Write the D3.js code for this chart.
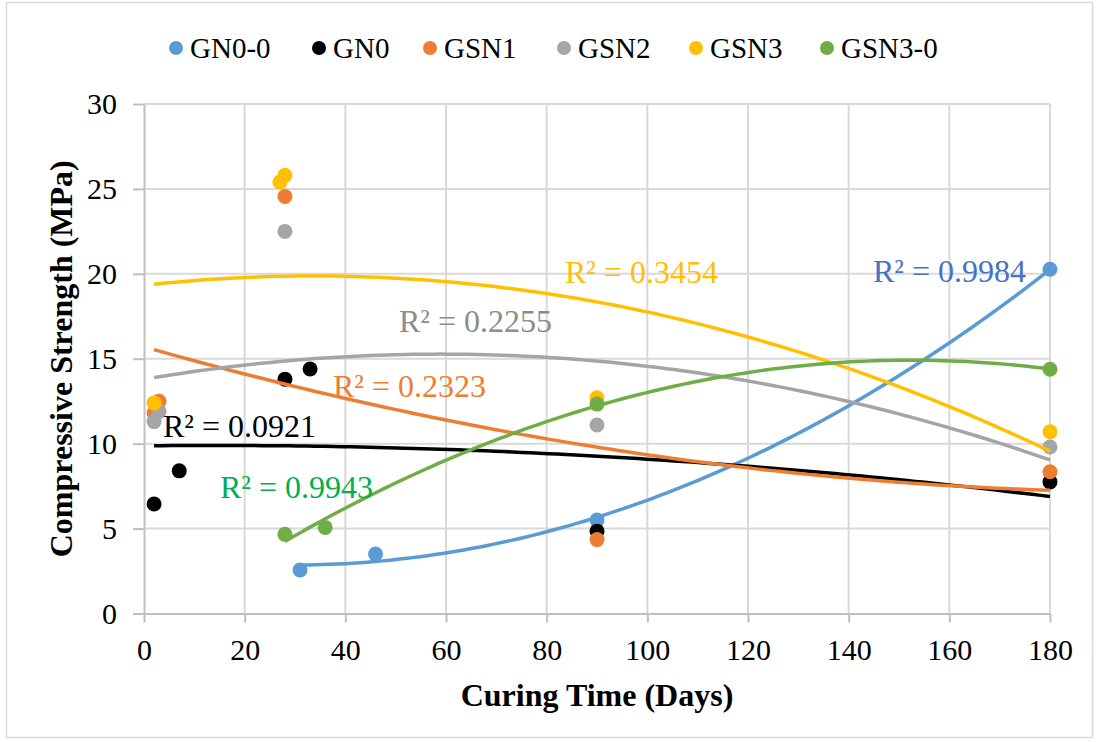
<!DOCTYPE html>
<html>
<head>
<meta charset="utf-8">
<script src="https://cdn.jsdelivr.net/npm/d3@7/dist/d3.min.js"></script>
<style>
  body { margin: 0; background: #fff; }
  svg text { font-family: "Liberation Serif", Tinos, "Times New Roman", Times, "DejaVu Serif", serif !important; }
</style>
</head>
<body>
<script>
// series
const seriesNames = ["GN0-0", "GN0", "GSN1", "GSN2", "GSN3", "GSN3-0"];
const seriesColors = ["#5B9BD5", "#000000", "#ED7D31", "#A5A5A5", "#FFC000", "#70AD47"];
const labelColors = ["#4472C4", "#000000", "#ED7D31", "#8C8C8C", "#FFC000", "#00B050"];

// curing days and strengths (MPa)
const curingDays = [
  [31, 46, 90, 180],
  [2, 7, 28, 33, 90, 180],
  [2, 3, 28, 90, 180],
  [2, 3, 28, 90, 180],
  [2, 27, 28, 90, 180],
  [28, 36, 90, 180]
];
const strength = [
  [2.56, 3.5, 5.5, 20.27],
  [6.45, 8.4, 13.8, 14.4, 4.85, 7.75],
  [11.8, 12.5, 24.55, 4.35, 8.35],
  [11.3, 11.9, 22.5, 11.1, 9.8],
  [12.4, 25.4, 25.8, 12.7, 10.7],
  [4.66, 5.07, 12.33, 14.38]
];
const r2Text = ["R² = 0.9984", "R² = 0.0921", "R² = 0.2323", "R² = 0.2255", "R² = 0.3454", "R² = 0.9943"];

const xTicks = d3.range(0, 181, 20);
const yTicks = d3.range(0, 31, 5);

const width = 1099, height = 742;
const serif = "'Liberation Serif', Tinos, 'Times New Roman', Times, 'DejaVu Serif', serif";

const svg = d3.select("body").append("svg")
  .attr("width", width)
  .attr("height", height)
  .attr("font-family", serif);

// chart area border
svg.append("rect")
  .attr("x", 6.5).attr("y", 2.5)
  .attr("width", 1086).attr("height", 735)
  .attr("fill", "#fff")
  .attr("stroke", "#d9d9d9")
  .attr("stroke-width", 1.5);

const x = d3.scaleLinear().domain([0, 180]).range([144, 1050]);
const y = d3.scaleLinear().domain([0, 30]).range([613.5, 104]);

// gridlines
svg.append("g").selectAll("line.h")
  .data(yTicks.filter(d => d > 0))
  .join("line")
  .attr("x1", x(0)).attr("x2", x(180))
  .attr("y1", d => y(d)).attr("y2", d => y(d))
  .attr("stroke", "#d9d9d9").attr("stroke-width", 2);

svg.append("g").selectAll("line.v")
  .data(xTicks.filter(d => d > 0))
  .join("line")
  .attr("x1", d => x(d)).attr("x2", d => x(d))
  .attr("y1", y(30)).attr("y2", y(0))
  .attr("stroke", "#d9d9d9").attr("stroke-width", 2);

// axes
const xAxis = svg.append("g")
  .attr("transform", "translate(0," + y(0) + ")")
  .call(d3.axisBottom(x).tickValues(xTicks).tickSize(9).tickPadding(16).tickSizeOuter(0));
const yAxis = svg.append("g")
  .attr("transform", "translate(" + x(0) + ",0)")
  .call(d3.axisLeft(y).tickValues(yTicks).tickSize(11).tickPadding(16).tickSizeOuter(0));

[xAxis, yAxis].forEach(a => {
  a.attr("font-family", serif).attr("font-size", 30);
  a.select(".domain").attr("stroke", "#bfbfbf").attr("stroke-width", 2);
  a.selectAll(".tick line").attr("stroke", "#bfbfbf").attr("stroke-width", 2);
  a.selectAll(".tick text").attr("fill", "#000");
});
xAxis.selectAll(".tick text").attr("dy", "0.71em");

// axis titles
svg.append("text")
  .attr("x", (x(0) + x(180)) / 2)
  .attr("y", 706)
  .attr("text-anchor", "middle")
  .attr("font-weight", "bold")
  .attr("font-size", 32)
  .text("Curing Time (Days)");

svg.append("text")
  .attr("transform", "rotate(-90)")
  .attr("x", -(y(0) + y(30)) / 2)
  .attr("y", 72)
  .attr("text-anchor", "middle")
  .attr("font-weight", "bold")
  .attr("font-size", 32)
  .text("Compressive Strength (MPa)");

// quadratic least squares (Excel poly 2 trendline)
function polyFit(xs, ys) {
  const n = xs.length;
  let s = [0, 0, 0, 0, 0], t = [0, 0, 0];
  for (let i = 0; i < n; i++) {
    let p = 1;
    for (let k = 0; k < 5; k++) { s[k] += p; if (k < 3) t[k] += p * ys[i]; p *= xs[i]; }
  }
  const A = [[s[0], s[1], s[2], t[0]], [s[1], s[2], s[3], t[1]], [s[2], s[3], s[4], t[2]]];
  for (let c = 0; c < 3; c++) {
    for (let r = c + 1; r < 3; r++) {
      const f = A[r][c] / A[c][c];
      for (let k = c; k < 4; k++) A[r][k] -= f * A[c][k];
    }
  }
  const b = [0, 0, 0];
  for (let r = 2; r >= 0; r--) {
    let v = A[r][3];
    for (let k = r + 1; k < 3; k++) v -= A[r][k] * b[k];
    b[r] = v / A[r][r];
  }
  return d => b[0] + b[1] * d + b[2] * d * d;
}

const series = seriesNames.map((name, i) => ({
  name: name,
  color: seriesColors[i],
  points: curingDays[i].map((d, j) => ({ day: d, value: strength[i][j] }))
}));

// markers
svg.append("g").selectAll("g")
  .data(series)
  .join("g")
  .attr("fill", d => d.color)
  .selectAll("circle")
  .data(d => d.points)
  .join("circle")
  .attr("cx", d => x(d.day))
  .attr("cy", d => y(d.value))
  .attr("r", 7.5);

// trendlines
const line = d3.line().x(d => x(d[0])).y(d => y(d[1]));
series.forEach((s, i) => {
  const f = polyFit(curingDays[i], strength[i]);
  const lo = d3.min(curingDays[i]), hi = d3.max(curingDays[i]);
  const pts = d3.range(0, 101).map(k => { const d = lo + (hi - lo) * k / 100; return [d, f(d)]; });
  svg.append("path")
    .attr("d", line(pts))
    .attr("fill", "none")
    .attr("stroke", s.color)
    .attr("stroke-width", 3.5);
});

// R² labels (pixel anchors)
const r2Pos = [[873, 282], [163, 437], [333, 397], [399, 332], [565, 283], [220, 498]];
svg.append("g").selectAll("text")
  .data(r2Text)
  .join("text")
  .attr("x", (d, i) => r2Pos[i][0])
  .attr("y", (d, i) => r2Pos[i][1])
  .attr("fill", (d, i) => labelColors[i])
  .attr("font-size", 32)
  .text(d => d);

// legend
const legendX = [176, 319, 430, 564, 696, 827];
const legend = svg.append("g").selectAll("g")
  .data(series)
  .join("g")
  .attr("transform", (d, i) => "translate(" + legendX[i] + ",48)");
legend.append("circle").attr("r", 7).attr("fill", d => d.color);
legend.append("text")
  .attr("x", 14)
  .attr("y", 10)
  .attr("font-size", 29)
  .text(d => d.name);
</script>
</body>
</html>
